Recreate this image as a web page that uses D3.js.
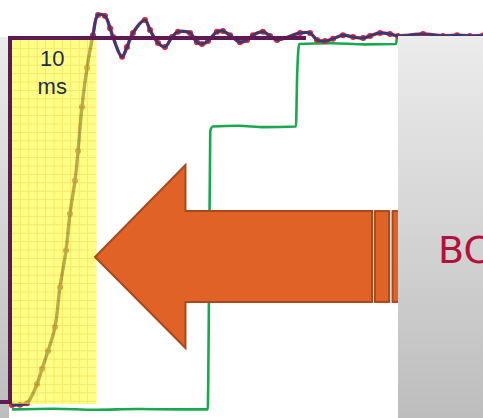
<!DOCTYPE html>
<html>
<head>
  <meta charset="UTF-8">
  <style>
    body { margin: 0; background: #fff; }
    svg { display: block; }
  </style>
</head>
<body>
  <script src="https://d3js.org/d3.v7.min.js"></script>
  <script>
    // response curve (time in ms, normalised value)
    var respT = [0, 0.95, 1.79, 2.98, 3.57, 4.29, 5.12, 5.71, 6.43, 6.9, 7.5, 7.86, 8.33, 8.93, 9.64,
      10.24, 11.07, 11.67, 12.02, 13.1, 13.69, 14.4, 15.83, 16.43, 17.38, 18.21, 19.05, 19.76,
      21.19, 22.02, 22.62, 23.33, 24.4, 25.12, 25.95, 27.14, 27.98, 28.69, 29.88, 30.71, 31.55,
      34.29, 35.48, 36.31, 37.26, 38.21, 39.4, 40.6, 41.79, 42.62, 43.81, 45, 45.95, 48.93,
      51.31, 52.98, 54.5, 56.07];
    var respV = [0, 0.001, 0.005, 0.057, 0.098, 0.147, 0.212, 0.32, 0.42, 0.52, 0.61, 0.69, 0.81, 0.916, 1.005,
      1.06, 1.057, 1.024, 1.0, 0.946, 0.973, 1.011, 1.046, 1.019, 0.984, 0.973, 1.0, 1.014,
      1.011, 0.986, 0.981, 0.989, 1.014, 1.016, 1.005, 0.986, 0.992, 1.005, 1.014, 1.003, 0.992,
      1.011, 1.011, 0.992, 0.989, 0.995, 1.005, 1.0, 0.997, 1.003, 1.011, 1.008, 1.003, 1.008,
      1.003, 1.005, 1.003, 1.004];

    // command steps (green)
    var stepT = [0, 5, 10, 15, 20, 23.3, 23.45, 23.6, 23.9, 27, 30, 33.8, 33.95, 34.2, 38, 42, 45.7, 45.85, 46.5, 47];
    var stepV = [-0.012, -0.01, -0.013, -0.011, -0.012, -0.012, 0.3, 0.745, 0.757, 0.759, 0.755, 0.757, 0.9, 0.981, 0.983, 0.98, 0.981, 1.0, 1.005, 1.005];

    var windowMs = [0, 10];
    var windowLabel = ["10", "ms"];
    var boxLabel = "BC";

    var W = 483, H = 418;
    var x = d3.scaleLinear().domain([0, 56.07]).range([12, 483]);
    var y = d3.scaleLinear().domain([0, 1]).range([405, 37]);

    var svg = d3.select("body").append("svg").attr("width", W).attr("height", H);

    var defs = svg.append("defs");
    var grad = defs.append("linearGradient").attr("id", "gris")
      .attr("x1", 0).attr("y1", 0).attr("x2", 0).attr("y2", 1);
    grad.append("stop").attr("offset", "0%").attr("stop-color", "#ececec");
    grad.append("stop").attr("offset", "100%").attr("stop-color", "#bdbdbd");

    // left grey panel
    svg.append("rect").attr("x", 0).attr("y", 37).attr("width", 9).attr("height", H - 37)
      .attr("fill", "url(#gris)");

    // green command line
    var green = d3.line().x(function(d) { return x(d[0]); }).y(function(d) { return y(d[1]); })
      .curve(d3.curveMonotoneX);
    svg.append("path").datum(d3.zip(stepT, stepV))
      .attr("d", green).attr("fill", "none").attr("stroke", "#17a94d").attr("stroke-width", 2.6);

    // response: red samples + blue trace
    var resp = d3.zip(respT, respV);
    var line = d3.line().x(function(d) { return x(d[0]); }).y(function(d) { return y(d[1]); })
      .curve(d3.curveCatmullRom);
    svg.append("path").datum(resp).attr("d", line).attr("fill", "none")
      .attr("stroke", "#e8212b").attr("stroke-width", 3.4);
    svg.selectAll(".dot").data(resp).enter().append("circle").attr("class", "dot")
      .attr("cx", function(d) { return x(d[0]); })
      .attr("cy", function(d) { return y(d[1]); })
      .attr("r", 3).attr("fill", "#e8212b");
    svg.append("path").datum(resp).attr("d", line).attr("fill", "none")
      .attr("stroke", "#283f7c").attr("stroke-width", 2.6);

    // yellow highlight window with 1 ms grid
    var hx0 = x(windowMs[0]), hx1 = x(windowMs[1]) + 0.5;
    var hy0 = 40, hy1 = 404;
    var hl = svg.append("g").attr("opacity", 0.6);
    hl.append("rect").attr("x", hx0).attr("y", hy0).attr("width", hx1 - hx0).attr("height", hy1 - hy0)
      .attr("fill", "#ffff3a");
    var step = x(1) - x(0);
    hl.selectAll(".vg").data(d3.range(windowMs[0] + 1, windowMs[1])).enter().append("line")
      .attr("x1", function(d) { return x(d); }).attr("x2", function(d) { return x(d); })
      .attr("y1", hy0).attr("y2", hy1).attr("stroke", "#f2dc00").attr("stroke-width", 1);
    hl.selectAll(".hg").data(d3.range(hy0 + step, hy1, step)).enter().append("line")
      .attr("y1", function(d) { return d; }).attr("y2", function(d) { return d; })
      .attr("x1", hx0).attr("x2", hx1).attr("stroke", "#f2dc00").attr("stroke-width", 1);

    // purple bracket
    var purple = "#5e1a52";
    svg.append("path")
      .attr("d", "M" + x(35) + "," + 38 + "H10V402H0")
      .attr("fill", "none").attr("stroke", purple).attr("stroke-width", 4);

    svg.selectAll(".lbl").data(windowLabel).enter().append("text")
      .attr("x", (hx0 + hx1) / 2 - 2).attr("y", function(d, i) { return 66 + i * 28; })
      .attr("text-anchor", "middle")
      .style("font-family", "Liberation Sans, Arial, sans-serif").style("font-size", "22px")
      .attr("fill", "#1e2d4c").text(function(d) { return d; });

    // arrow pointing left
    var tip = [9.88, 0.402], headBack = 20.65, shaftEnd = 42.86;
    var hTop = 0.652, sTop = 0.527, sBot = 0.28, hBot = 0.155;
    var arrow = [[shaftEnd, sTop], [headBack, sTop], [headBack, hTop], tip, [headBack, hBot], [headBack, sBot], [shaftEnd, sBot]];
    svg.append("path")
      .attr("d", "M" + arrow.map(function(p) { return x(p[0]) + "," + y(p[1]); }).join("L") + "Z")
      .attr("fill", "#e06226").attr("stroke", "#a9481c").attr("stroke-width", 2).attr("stroke-linejoin", "miter");
    var bars = [[43.2, 44.9], [45.3, 46.9]];
    svg.selectAll(".bar").data(bars).enter().append("rect")
      .attr("x", function(d) { return x(d[0]); })
      .attr("width", function(d) { return x(d[1]) - x(d[0]); })
      .attr("y", y(sTop)).attr("height", y(sBot) - y(sTop))
      .attr("fill", "#e06226").attr("stroke", "#a9481c").attr("stroke-width", 2);

    // right grey box
    svg.append("rect").attr("x", 398).attr("y", 36).attr("width", W - 398).attr("height", H - 36)
      .attr("fill", "url(#gris)");
    svg.append("text").attr("x", 438).attr("y", 263)
      .style("font-family", "DejaVu Sans, sans-serif").style("font-size", "38px")
      .attr("fill", "#b3113c").text(boxLabel);
  </script>
</body>
</html>
